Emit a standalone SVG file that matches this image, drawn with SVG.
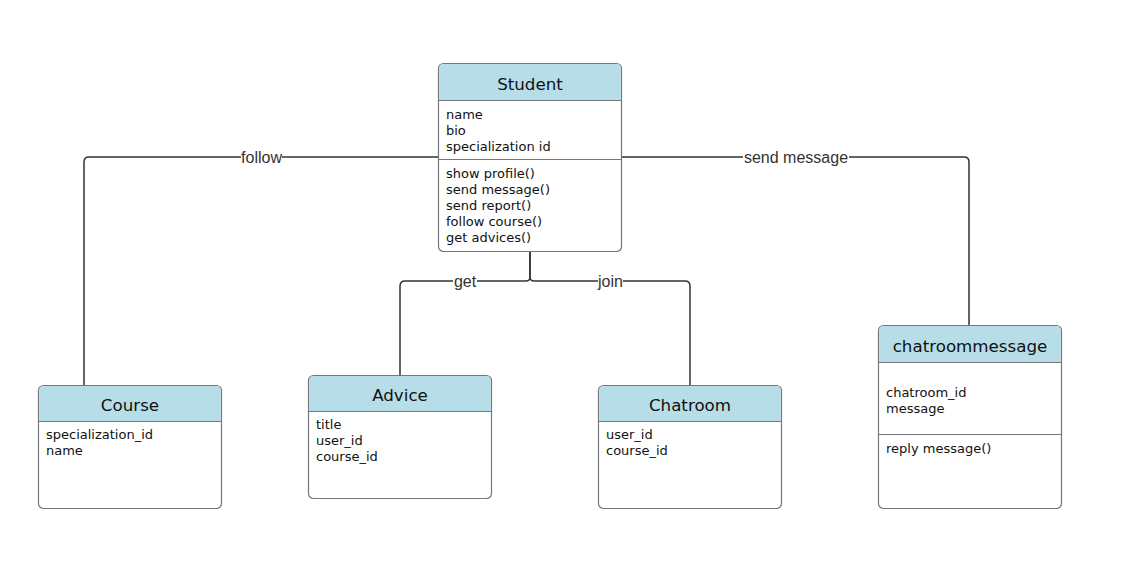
<svg xmlns="http://www.w3.org/2000/svg" width="1131" height="571" viewBox="0 0 1131 571">
<style>
.box{fill:#fff;stroke:#777;stroke-width:1.2}
.hdr{fill:#b7dde8}
.sep{stroke:#777;stroke-width:1.2}
.title{font-family:"DejaVu Sans",Verdana,sans-serif;font-size:16.7px;fill:#111;text-anchor:middle}
.attr{font-family:"DejaVu Sans",Verdana,sans-serif;font-size:13px;fill:#111}
.conn{fill:none;stroke:#333;stroke-width:1.5}
.lbl{font-family:"Liberation Sans",Arial,sans-serif;font-size:16px;fill:#333;text-anchor:middle}
.lblbg{fill:#fff}
</style>
<rect width="1131" height="571" fill="#fff"/>
<g id="connectors">
<path class="conn" d="M438,157 H89 Q84,157 84,162 V385"/>
<path class="conn" d="M622,157 H964 Q969,157 969,162 V325"/>
<path class="conn" d="M530,252 V277 Q530,281 526,281 H405 Q400,281 400,286 V375"/>
<path class="conn" d="M530,252 V277 Q530,281 534,281 H685 Q690,281 690,286 V385"/>
<rect class="lblbg" x="241" y="149" width="41" height="16"/>
<text class="lbl" x="261.5" y="162.5">follow</text>
<rect class="lblbg" x="743" y="149" width="106" height="16"/>
<text class="lbl" x="796" y="162.5">send message</text>
<rect class="lblbg" x="453" y="273" width="24" height="16"/>
<text class="lbl" x="465" y="286.5">get</text>
<rect class="lblbg" x="598" y="273" width="25" height="16"/>
<text class="lbl" x="610.5" y="286.5">join</text>
</g>
<g id="Student">
<rect class="box" x="438.5" y="63.5" width="183" height="188" rx="5"/>
<path class="hdr" d="M439.1,100 V68.5 Q439.1,64.1 443.5,64.1 H616.5 Q620.9,64.1 620.9,68.5 V100 Z"/>
<line class="sep" x1="438.5" y1="100.5" x2="621.5" y2="100.5"/>
<line class="sep" x1="438.5" y1="159.5" x2="621.5" y2="159.5"/>
<text class="title" x="530" y="90">Student</text>
<text class="attr" x="446" y="119">name</text>
<text class="attr" x="446" y="135">bio</text>
<text class="attr" x="446" y="151">specialization id</text>
<text class="attr" x="446" y="178">show profile()</text>
<text class="attr" x="446" y="194">send message()</text>
<text class="attr" x="446" y="210">send report()</text>
<text class="attr" x="446" y="226">follow course()</text>
<text class="attr" x="446" y="242">get advices()</text>
</g>
<g id="Course">
<rect class="box" x="38.5" y="385.5" width="183" height="123" rx="5"/>
<path class="hdr" d="M39.1,421 V390.5 Q39.1,386.1 43.5,386.1 H216.5 Q220.9,386.1 220.9,390.5 V421 Z"/>
<line class="sep" x1="38.5" y1="421.5" x2="221.5" y2="421.5"/>
<text class="title" x="130" y="411">Course</text>
<text class="attr" x="46" y="439">specialization_id</text>
<text class="attr" x="46" y="455">name</text>
</g>
<g id="Advice">
<rect class="box" x="308.5" y="375.5" width="183" height="123" rx="5"/>
<path class="hdr" d="M309.1,411 V380.5 Q309.1,376.1 313.5,376.1 H486.5 Q490.9,376.1 490.9,380.5 V411 Z"/>
<line class="sep" x1="308.5" y1="411.5" x2="491.5" y2="411.5"/>
<text class="title" x="400" y="401">Advice</text>
<text class="attr" x="316" y="429">title</text>
<text class="attr" x="316" y="445">user_id</text>
<text class="attr" x="316" y="461">course_id</text>
</g>
<g id="Chatroom">
<rect class="box" x="598.5" y="385.5" width="183" height="123" rx="5"/>
<path class="hdr" d="M599.1,421 V390.5 Q599.1,386.1 603.5,386.1 H776.5 Q780.9,386.1 780.9,390.5 V421 Z"/>
<line class="sep" x1="598.5" y1="421.5" x2="781.5" y2="421.5"/>
<text class="title" x="690" y="411">Chatroom</text>
<text class="attr" x="606" y="439">user_id</text>
<text class="attr" x="606" y="455">course_id</text>
</g>
<g id="chatroommessage">
<rect class="box" x="878.5" y="325.5" width="183" height="183" rx="5"/>
<path class="hdr" d="M879.1,362 V330.5 Q879.1,326.1 883.5,326.1 H1056.5 Q1060.9,326.1 1060.9,330.5 V362 Z"/>
<line class="sep" x1="878.5" y1="362.5" x2="1061.5" y2="362.5"/>
<line class="sep" x1="878.5" y1="434.5" x2="1061.5" y2="434.5"/>
<text class="title" x="970" y="352">chatroommessage</text>
<text class="attr" x="886" y="397">chatroom_id</text>
<text class="attr" x="886" y="413">message</text>
<text class="attr" x="886" y="453">reply message()</text>
</g>
</svg>
